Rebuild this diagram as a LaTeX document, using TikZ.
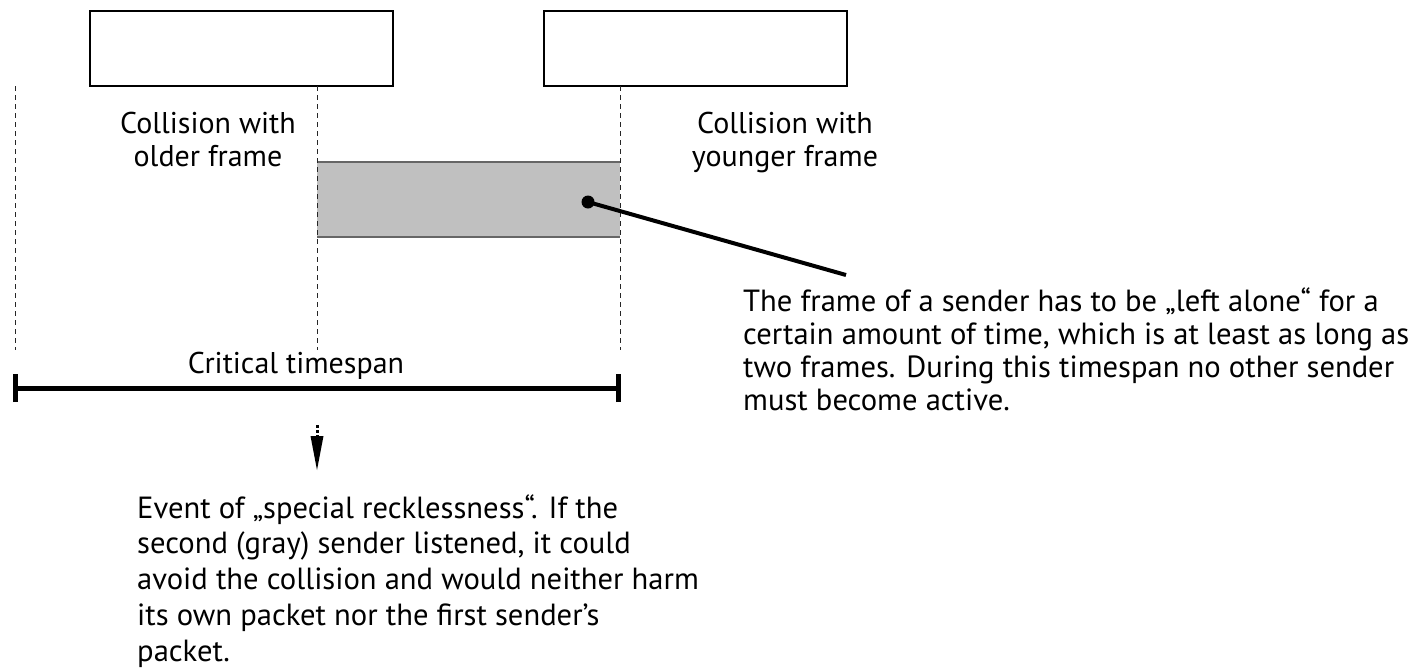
\documentclass[tikz,border=0pt]{standalone}
\usepackage{fontspec}
\setmainfont{PT Sans}
\begin{document}
\begin{tikzpicture}[x=1pt,y=-1pt,
  framebox/.style={draw=black,line width=1.2pt,fill=white},
  grayframe/.style={fill=framegray},
  timeline/.style={draw=black!85,line width=1pt,dash pattern=on 5pt off 4pt},
  spanbar/.style={line width=5pt,line cap=butt},
  pointer/.style={line width=4pt},
  lbl/.style={inner sep=0pt,font=\fontsize{30}{33}\selectfont},
  para/.style={inner sep=0pt,align=left,font=\fontsize{30.6}{35.7}\selectfont},
  parb/.style={inner sep=0pt,align=left,font=\fontsize{30.6}{32.7}\selectfont}]
\definecolor{framegray}{RGB}{192,192,192}
\useasboundingbox (0,0) rectangle (1415,670);

% frames on the medium
\draw[framebox] (90,11) rectangle (393,86);
\draw[framebox] (544,11) rectangle (847,86);
\fill[grayframe] (317,162) rectangle (620,237);
\draw[black!60,line width=1.2pt] (317,162) -- (620,162) (317,237) -- (620,237);

% time marks
\coordinate (t0a) at (15,86);   \coordinate (t0b) at (15,350);
\coordinate (t1a) at (317,86);  \coordinate (t1b) at (317,350);
\coordinate (t2a) at (620,86);  \coordinate (t2b) at (620,350);
\draw[timeline] (t0a) -- (t0b);
\draw[timeline] (t1a) -- (t1b);
\draw[timeline] (t2a) -- (t2b);

% labels (base anchor = baseline of the last line)
\node[lbl,align=center,anchor=base] (older) at (208,166) {Collision with\\older frame};
\node[lbl,align=center,anchor=base] (younger) at (785,166) {Collision with\\younger frame};

% critical timespan
\coordinate (c0) at (15.5,388);
\coordinate (c1) at (618,388);
\draw[spanbar] (c0) -- (c1);
\draw[spanbar] ([yshift=-14pt]c0) -- ([yshift=14pt]c0);
\draw[spanbar] ([yshift=-14pt]c1) -- ([yshift=14pt]c1);
\node[lbl,anchor=base] (crit) at (296,373) {Critical timespan};

% pointer from the gray frame to its explanation
\coordinate (dot) at (588,202);
\coordinate (tip) at (846,275);
\fill (dot) circle (6.5pt);
\draw[pointer] (dot) -- (tip);
\node[parb,anchor=base west] (alone) at (743,410) {The frame of a sender has to be „left alone“ for a\\certain amount of time, which is at least as long as\\two frames. During this timespan no other sender\\must become active.};

% event arrow
\coordinate (ea) at (317,425);
\coordinate (eb) at (317,436);
\coordinate (ec) at (317,470);
\draw[line width=3pt,dash pattern=on 2.5pt off 2.5pt] (ea) -- (eb);
\fill ([xshift=-6.5pt]eb) -- ([xshift=6.5pt]eb) -- (ec) -- cycle;
\node[para,anchor=base west] (event) at (137,661) {Event of „special recklessness“. If the\\second (gray) sender listened, it could\\avoid the collision and would neither harm\\its own packet nor the first sender’s\\packet.};
\end{tikzpicture}
\end{document}
